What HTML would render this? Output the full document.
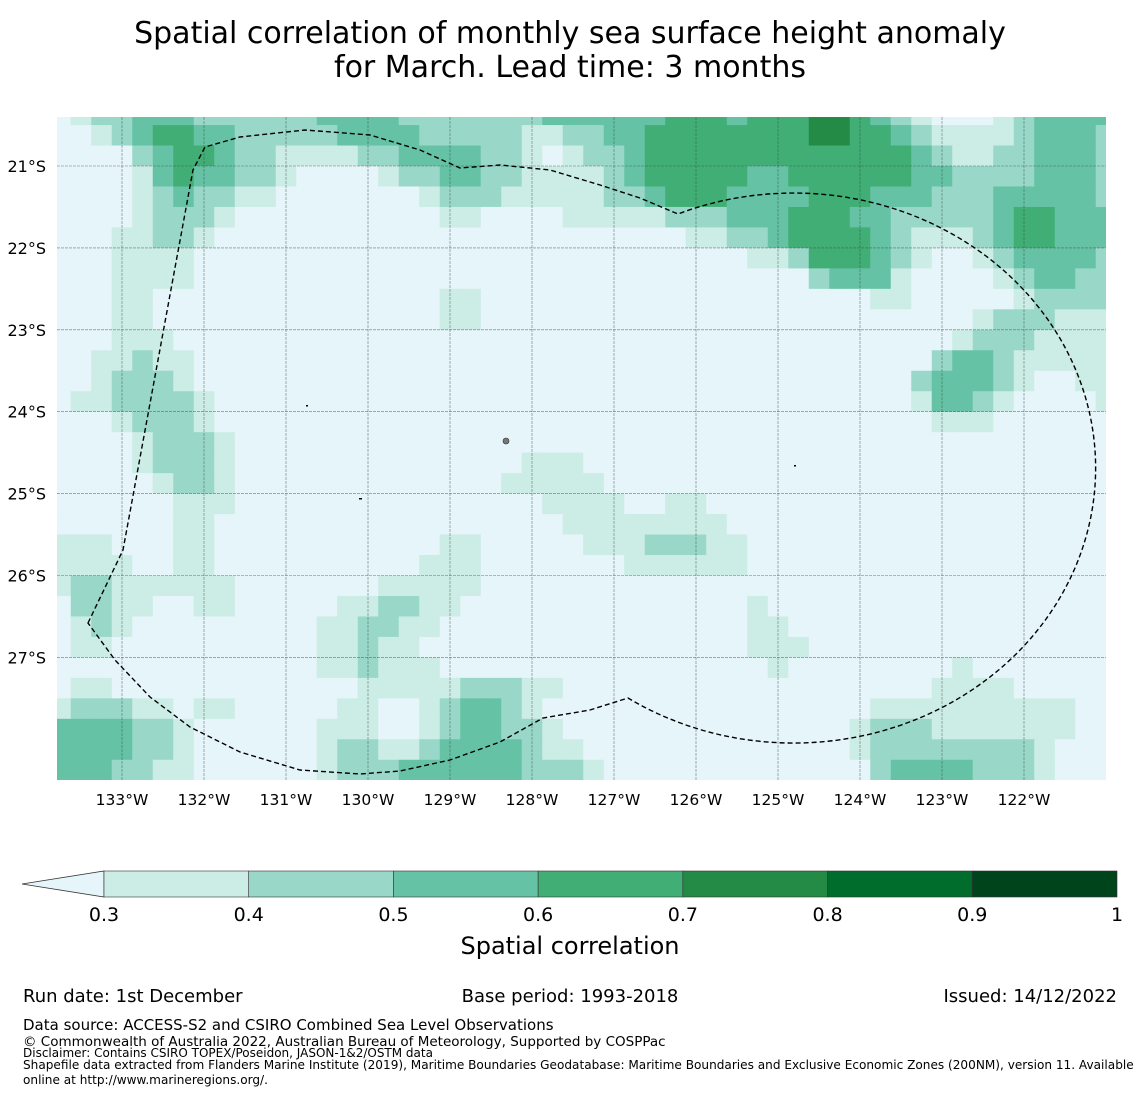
<!DOCTYPE html>
<html><head><meta charset="utf-8">
<style>
body{margin:0;background:#fff;}
svg{display:block;font-family:"DejaVu Sans","Liberation Sans",sans-serif;}
</style></head>
<body>
<svg id="chart" width="1140" height="1095" viewBox="0 0 1140 1095" xmlns="http://www.w3.org/2000/svg">
<text x="570" y="43" text-anchor="middle" font-size="30" fill="#000">Spatial correlation of monthly sea surface height anomaly</text>
<text x="570" y="77" text-anchor="middle" font-size="30" fill="#000">for March. Lead time: 3 months</text>
<defs><clipPath id="mapclip"><rect x="57" y="117" width="1049" height="663"/></clipPath></defs>
<g id="map" clip-path="url(#mapclip)">
<rect x="57" y="117" width="1049" height="663" fill="#e5f5f9"/>
<g id="cells"></g>
<g id="grid"></g>
<path id="eez" fill="none" stroke="#000" stroke-width="1.4" stroke-dasharray="5,3"
d="M88,623 L123,550 L193,170 L205,147 L240,137 L305,130 L370,135 L420,150 L460,168 L500,165 L550,170 L600,185 L640,198 L678,214 A302,275 0 1 1 628,698 L590,710 L543,718 L500,742 L450,760 L400,771 L360,774 L300,770 L240,752 L190,727 L150,697 L115,660 Z"/>
<circle cx="506" cy="441" r="3" fill="#777" stroke="#333" stroke-width="0.6"/>
<rect x="306" y="405" width="2" height="1.5" fill="#000"/>
<rect x="359" y="498" width="3" height="1.5" fill="#000"/>
<rect x="794" y="465" width="2" height="1.5" fill="#000"/>
</g>
<g id="xticks"></g>
<g id="yticks"></g>
<g id="colorbar"></g>
<text x="570" y="954" text-anchor="middle" font-size="24">Spatial correlation</text>
<text x="23" y="1002" font-size="18">Run date: 1st December</text>
<text x="570" y="1002" text-anchor="middle" font-size="18">Base period: 1993-2018</text>
<text x="1117" y="1002" text-anchor="end" font-size="18">Issued: 14/12/2022</text>
<text x="23" y="1030" font-size="15">Data source: ACCESS-S2 and CSIRO Combined Sea Level Observations</text>
<text x="23" y="1046" font-size="13.5">© Commonwealth of Australia 2022, Australian Bureau of Meteorology, Supported by COSPPac</text>
<text x="23" y="1057" font-size="12">Disclaimer: Contains CSIRO TOPEX/Poseidon, JASON-1&amp;2/OSTM data</text>
<text x="23" y="1069" font-size="12.1">Shapefile data extracted from Flanders Marine Institute (2019), Maritime Boundaries Geodatabase: Maritime Boundaries and Exclusive Economic Zones (200NM), version 11. Available</text>
<text x="23" y="1084" font-size="12.1">online at http://www.marineregions.org/.</text>
</svg>
<script>
const lons = [-133.75,-133.5,-133.25,-133,-132.75,-132.5,-132.25,-132,-131.75,-131.5,-131.25,-131,-130.75,-130.5,-130.25,-130,-129.75,-129.5,-129.25,-129,-128.75,-128.5,-128.25,-128,-127.75,-127.5,-127.25,-127,-126.75,-126.5,-126.25,-126,-125.75,-125.5,-125.25,-125,-124.75,-124.5,-124.25,-124,-123.75,-123.5,-123.25,-123,-122.75,-122.5,-122.25,-122,-121.75,-121.5,-121.25,-121];
const lats = [-20.375,-20.625,-20.875,-21.125,-21.375,-21.625,-21.875,-22.125,-22.375,-22.625,-22.875,-23.125,-23.375,-23.625,-23.875,-24.125,-24.375,-24.625,-24.875,-25.125,-25.375,-25.625,-25.875,-26.125,-26.375,-26.625,-26.875,-27.125,-27.375,-27.625,-27.875,-28.125,-28.375];
// correlation class per cell (0: <0.3, 1: 0.3-0.4, 2: 0.4-0.5, 3: 0.5-0.6, 4: 0.6-0.7, 5: 0.7-0.8)
const corrRows = [
"0122333222222333322222223333334443444554321000123333",
"0012344332222233332222211223344444444554432111123332",
"0000234432211112233332210122344444444444443211223332",
"0000134332210000122332211112344444334444443322223332",
"0000123221100000001222111112234443333444333222333332",
"0000122210000000000110000111112223334443322222344333",
"0001122100000000000000000000000112234444321112344333",
"0001111000000000000000000000000000112444321001233332",
"0001111000000000000000000000000000000233310000123322",
"0001100000000000000110000000000000000000110000012222",
"0001100000000000000110000000000000000000000001222111",
"0001110000000000000000000000000000000000000012221111",
"0011211000000000000000000000000000000000000233211111",
"0012221000000000000000000000000000000000002333210011",
"0112222100000000000000000000000000000000001332100001",
"0001222100000000000000000000000000000000000111000000",
"0000122210000000000000000000000000000000000000000000",
"0000122210000000000000011100000000000000000000000000",
"0000012210000000000000111110000000000000000000000000",
"0000001110000000000000001111001100000000000000000000",
"0000001100000000000000000111111110000000000000000000",
"1110001100000000000110000011122211000000000000000000",
"1111001100000000001110000000111111000000000000000000",
"1221111110000000111110000000000000000000000000000000",
"0221100110000011221100000000000000100000000000000000",
"0121000000000112211000000000000000110000000000000000",
"0110000000000112110000000000000000111000000000000000",
"0000000000000112111000000000000000010000000010000000",
"0110000000000001111122211000000000000000000111100000",
"1222110110000011001233210000000000000000111111111100",
"3333221000000111001233221000000000000001222111111100",
"3333221000000122112333321100000000000001222222221000",
"3332211000000122233333322210000000000000233332221000"
];
const classValue = [0.2,0.35,0.45,0.55,0.65,0.75];
const breaks = [0.3,0.4,0.5,0.6,0.7,0.8,0.9,1.0];
const palette = ["#e5f5f9","#ccece6","#99d8c9","#66c2a4","#41ae76","#238b45","#006d2c","#00441b"];
const xTickLons = [-133,-132,-131,-130,-129,-128,-127,-126,-125,-124,-123,-122];
const xTickLabels = ["133°W","132°W","131°W","130°W","129°W","128°W","127°W","126°W","125°W","124°W","123°W","122°W"];
const yTickLats = [-21,-22,-23,-24,-25,-26,-27];
const yTickLabels = ["21°S","22°S","23°S","24°S","25°S","26°S","27°S"];
const cbTicks = [0.3,0.4,0.5,0.6,0.7,0.8,0.9,1.0];
const cbTickLabels = ["0.3","0.4","0.5","0.6","0.7","0.8","0.9","1"];

const NS="http://www.w3.org/2000/svg";
const xOf = lon => 122 + (lon + 133) * 82;
const yOf = lat => 166 + (-21 - lat) * 81.9;
const cbX = v => 104 + (v - 0.3) / 0.7 * 1013;
function colorFor(v){let i=0;while(i<breaks.length&&v>=breaks[i])i++;return palette[Math.min(i,palette.length-1)];}

const cells=document.getElementById('cells');
const dLon=0.25, dLat=0.25;
for(let r=0;r<lats.length;r++){
  for(let c=0;c<lons.length;c++){
    const v=classValue[+corrRows[r][c]];
    const x0=xOf(lons[c]-dLon/2), x1=xOf(lons[c]+dLon/2);
    const y0=yOf(lats[r]+dLat/2), y1=yOf(lats[r]-dLat/2);
    const rc=document.createElementNS(NS,'rect');
    rc.setAttribute('x',x0);rc.setAttribute('y',y0);
    rc.setAttribute('width',x1-x0+0.4);rc.setAttribute('height',y1-y0+0.4);
    rc.setAttribute('fill',colorFor(v));
    
    
    cells.appendChild(rc);
  }
}
const grid=document.getElementById('grid');
xTickLons.forEach(lon=>{
  const l=document.createElementNS(NS,'line');
  l.setAttribute('x1',xOf(lon));l.setAttribute('x2',xOf(lon));l.setAttribute('y1',117);l.setAttribute('y2',780);
  l.setAttribute('stroke','#444');l.setAttribute('stroke-width','0.6');l.setAttribute('stroke-dasharray','3,1');l.setAttribute('opacity','0.7');
  
  
  grid.appendChild(l);
});
yTickLats.forEach(lat=>{
  const l=document.createElementNS(NS,'line');
  l.setAttribute('y1',yOf(lat));l.setAttribute('y2',yOf(lat));l.setAttribute('x1',57);l.setAttribute('x2',1106);
  l.setAttribute('stroke','#444');l.setAttribute('stroke-width','0.6');l.setAttribute('stroke-dasharray','3,1');l.setAttribute('opacity','0.7');
  
  
  grid.appendChild(l);
});
const xt=document.getElementById('xticks');
xTickLons.forEach((lon,i)=>{
  const t=document.createElementNS(NS,'text');
  t.setAttribute('x',xOf(lon));t.setAttribute('y',805);t.setAttribute('text-anchor','middle');t.setAttribute('font-size','15.5');
  t.textContent=xTickLabels[i];
  
  
  xt.appendChild(t);
});
const yt=document.getElementById('yticks');
yTickLats.forEach((lat,i)=>{
  const t=document.createElementNS(NS,'text');
  t.setAttribute('x',46);t.setAttribute('y',yOf(lat)+6);t.setAttribute('text-anchor','end');t.setAttribute('font-size','16');
  t.textContent=yTickLabels[i];
  
  
  yt.appendChild(t);
});
const cb=document.getElementById('colorbar');
const tri=document.createElementNS(NS,'polygon');
tri.setAttribute('points','22,884 '+cbX(0.3)+',871 '+cbX(0.3)+',897');
tri.setAttribute('fill','#e5f5f9');tri.setAttribute('stroke','#333');tri.setAttribute('stroke-width','0.8');


cb.appendChild(tri);
for(let i=0;i<breaks.length-1;i++){
  const rc=document.createElementNS(NS,'rect');
  rc.setAttribute('x',cbX(breaks[i]));rc.setAttribute('y',871);
  rc.setAttribute('width',cbX(breaks[i+1])-cbX(breaks[i]));rc.setAttribute('height',26);
  rc.setAttribute('fill',palette[i+1]);rc.setAttribute('stroke','#333');rc.setAttribute('stroke-width','0.6');
  
  
  cb.appendChild(rc);
}
cbTicks.forEach((v,i)=>{
  const t=document.createElementNS(NS,'text');
  t.setAttribute('x',cbX(v));t.setAttribute('y',921);t.setAttribute('text-anchor','middle');t.setAttribute('font-size','19');
  t.textContent=cbTickLabels[i];
  
  
  cb.appendChild(t);
});
</script>
</body></html>
